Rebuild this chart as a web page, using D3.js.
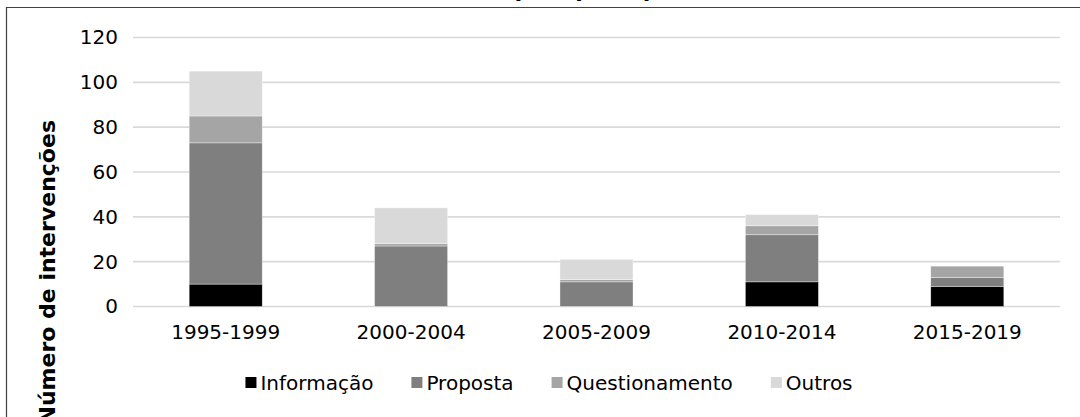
<!DOCTYPE html>
<html>
<head>
<meta charset="utf-8">
<script src="https://cdn.jsdelivr.net/npm/d3@7"></script>
<style>
  html, body { margin: 0; padding: 0; background: #fff; }
  svg { display: block; font-family: "DejaVu Sans", Verdana, sans-serif; }
</style>
</head>
<body>
<div id="chart"></div>
<script>
// data
var periods = ["1995-1999", "2000-2004", "2005-2009", "2010-2014", "2015-2019"];
var seriesNames = ["Informação", "Proposta", "Questionamento", "Outros"];
var informacao = [10, 0, 0, 11, 9];
var proposta = [63, 27, 11, 21, 4];
var questionamento = [12, 1, 1, 4, 5];
var outros = [20, 16, 9, 5, 0];
var yTicks = [0, 20, 40, 60, 80, 100, 120];
var colors = ["#000000", "#7f7f7f", "#a5a5a5", "#d9d9d9"];

var width = 1080;
var height = 417;

var svg = d3.select("#chart").append("svg")
    .attr("width", width)
    .attr("height", height);

// frame (the picture is cropped, only top + left edge visible)
svg.append("path")
    .attr("d", "M6.5,417 L6.5,7.5 L1080,7.5")
    .style("fill", "none")
    .style("stroke", "#404040")
    .style("stroke-width", 1.2);

// title, cut off above the frame: only descenders show
svg.append("text")
    .attr("x", 540)
    .attr("y", 0)
    .attr("dy", "-0.12em")
    .style("text-anchor", "middle")
    .style("font-weight", "bold")
    .style("font-size", "22px")
    .text("Intervenções por tipo");

var table = periods.map(function(p, i) {
    return {
        period: p,
        "Informação": informacao[i],
        "Proposta": proposta[i],
        "Questionamento": questionamento[i],
        "Outros": outros[i]
    };
});

var x = d3.scaleBand()
    .domain(periods)
    .range([133, 1060])
    .paddingInner(0.606)
    .paddingOuter(0.303);

var y = d3.scaleLinear()
    .domain([0, 120])
    .range([306.5, 37.5]);

// gridlines
svg.append("g").selectAll("line")
    .data(yTicks)
    .enter().append("line")
    .attr("x1", 133)
    .attr("x2", 1060)
    .attr("y1", function(d) { return y(d); })
    .attr("y2", function(d) { return y(d); })
    .style("stroke", "#d9d9d9")
    .style("stroke-width", 1.6);

// y axis labels
var yAxis = svg.append("g")
    .attr("transform", "translate(133,0)")
    .call(d3.axisLeft(y).tickValues(yTicks).tickSize(0).tickPadding(15));
yAxis.select(".domain").remove();
yAxis.selectAll("text")
    .style("font-family", "DejaVu Sans, Verdana, sans-serif")
    .style("font-size", "20px")
    .style("fill", "#000");

// stacked bars
var stack = d3.stack().keys(seriesNames);
var layers = stack(table);

svg.append("g").selectAll("g")
    .data(layers)
    .enter().append("g")
    .style("fill", function(d, i) { return colors[i]; })
    .selectAll("rect")
    .data(function(d) { return d; })
    .enter().append("rect")
    .attr("x", function(d) { return x(d.data.period); })
    .attr("width", x.bandwidth())
    .attr("y", function(d) { return y(d[1]); })
    .attr("height", function(d) { return y(d[0]) - y(d[1]); })
    .style("stroke", "#ffffff")
    .style("stroke-width", 0.6)
    .style("stroke-opacity", function(d) { return d[1] > d[0] ? 0.6 : 0; });

// x axis labels
var xAxis = svg.append("g")
    .attr("transform", "translate(0," + y(0) + ")")
    .call(d3.axisBottom(x).tickSize(0).tickPadding(18));
xAxis.select(".domain").remove();
xAxis.selectAll("text")
    .style("font-family", "DejaVu Sans, Verdana, sans-serif")
    .style("font-size", "20px")
    .style("fill", "#000");

// y axis title
svg.append("text")
    .attr("transform", "translate(55,120) rotate(-90)")
    .style("text-anchor", "end")
    .style("font-weight", "bold")
    .style("font-size", "22px")
    .text("Número de intervenções");

// legend
var legend = svg.append("g");
var items = legend.selectAll("g")
    .data(seriesNames)
    .enter().append("g");

items.append("rect")
    .attr("y", 377)
    .attr("width", 11)
    .attr("height", 11)
    .style("fill", function(d, i) { return colors[i]; });

items.append("text")
    .attr("x", 15)
    .attr("y", 390)
    .style("font-size", "20px")
    .text(function(d) { return d; });

var gap = 38;
var pos = 0;
var offsets = [];
items.each(function() {
    offsets.push(pos);
    var tl = d3.select(this).select("text").node().getComputedTextLength();
    pos += 15 + tl + gap;
});
var total = pos - gap;
var startX = 549 - total / 2;
items.attr("transform", function(d, i) { return "translate(" + (startX + offsets[i]) + ",0)"; });
</script>
</body>
</html>
